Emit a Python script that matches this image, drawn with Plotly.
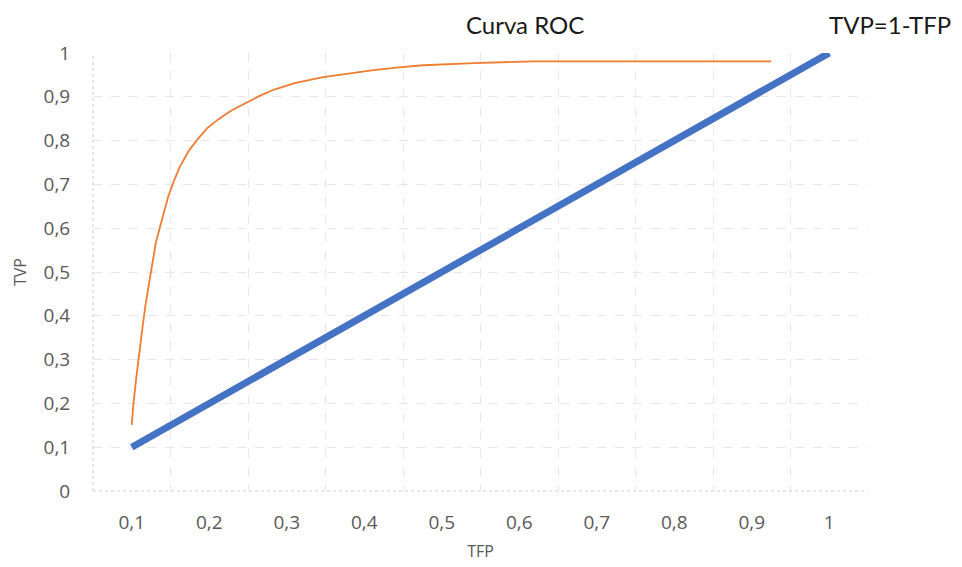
import plotly.graph_objects as go

# Data
roc_tfp = [0.100, 0.102, 0.106, 0.110, 0.114, 0.118, 0.123, 0.127, 0.131, 0.136,
           0.141, 0.147, 0.154, 0.162, 0.173, 0.184, 0.197, 0.212, 0.228, 0.245,
           0.265, 0.283, 0.310, 0.347, 0.380, 0.412, 0.445, 0.476, 0.541, 0.618,
           0.700, 0.800, 0.925]
roc_tvp = [0.151, 0.196, 0.261, 0.322, 0.375, 0.428, 0.482, 0.527, 0.566, 0.600,
           0.634, 0.672, 0.706, 0.740, 0.775, 0.801, 0.828, 0.849, 0.868, 0.884,
           0.902, 0.916, 0.931, 0.945, 0.954, 0.961, 0.967, 0.972, 0.977, 0.981,
           0.981, 0.981, 0.981]
diag_tfp = [0.1, 1.0]
diag_tvp = [0.1, 1.0]

x_ticks = [0.1, 0.2, 0.3, 0.4, 0.5, 0.6, 0.7, 0.8, 0.9, 1.0]
x_labels = ["0,1", "0,2", "0,3", "0,4", "0,5", "0,6", "0,7", "0,8", "0,9", "1"]
x_grid = [0.15, 0.25, 0.35, 0.45, 0.55, 0.65, 0.75, 0.85, 0.95, 1.05]
y_ticks = [0, 0.1, 0.2, 0.3, 0.4, 0.5, 0.6, 0.7, 0.8, 0.9, 1.0]
y_labels = ["0", "0,1", "0,2", "0,3", "0,4", "0,5", "0,6", "0,7", "0,8", "0,9", "1"]

series_names = ["Curva ROC", "TVP=1-TFP"]

fig = go.Figure()
fig.add_trace(go.Scatter(x=roc_tfp, y=roc_tvp, mode="lines", name=series_names[0],
                         line=dict(color="#ED7D31", width=1.8)))
fig.add_trace(go.Scatter(x=diag_tfp, y=diag_tvp, mode="lines", name=series_names[1],
                         line=dict(color="#4472C4", width=7)))

grid_col = "#E6E6E6"
tick_font = dict(family="Open Sans, Noto Sans, sans-serif", size=19, color="#595959")
title_font = dict(family="Open Sans, Noto Sans, sans-serif", size=16, color="#595959")

L, R, T, B = 93, 94, 53, 76
W, H = 962, 567
pw, ph = W - L - R, H - T - B

fig.update_layout(
    width=W, height=H,
    margin=dict(l=L, r=R, t=T, b=B, autoexpand=False),
    paper_bgcolor="white", plot_bgcolor="white",
    showlegend=False,
    xaxis=dict(range=[0.05, 1.05], tickvals=x_ticks, ticktext=x_labels,
               showgrid=False, zeroline=False, ticks="outside", ticklen=14,
               tickcolor="rgba(0,0,0,0)", automargin=False,
               tickfont=tick_font, showline=False,
               minor=dict(tickvals=x_grid, showgrid=True, gridcolor=grid_col,
                          griddash="dash", gridwidth=1, ticks=""),
               title=dict(text="TFP", font=title_font, standoff=12)),
    yaxis=dict(range=[0, 1], tickvals=y_ticks, ticktext=y_labels,
               showgrid=True, gridcolor=grid_col, griddash="dash", gridwidth=1,
               zeroline=False, ticks="outside", ticklen=18, tickcolor="rgba(0,0,0,0)",
               automargin=False, tickfont=tick_font, showline=False,
               title=dict(text="TVP", font=title_font, standoff=12)),
    shapes=[
        dict(type="line", xref="paper", yref="paper", x0=0, x1=0, y0=0, y1=1,
             line=dict(color="#CFCFCF", width=1, dash="dot")),
        dict(type="line", xref="paper", yref="paper", x0=0, x1=1, y0=0, y1=0,
             line=dict(color="#CFCFCF", width=1, dash="dot")),
    ],
    annotations=[
        dict(text=series_names[0], x=(525 - L) / pw, y=(H - B - 25) / ph,
             xref="paper", yref="paper", showarrow=False, xanchor="center", yanchor="middle",
             font=dict(family="Lato, Carlito, sans-serif", size=24, color="#1a1a1a")),
        dict(text=series_names[1], x=(890 - L) / pw, y=(H - B - 25) / ph,
             xref="paper", yref="paper", showarrow=False, xanchor="center", yanchor="middle",
             font=dict(family="Lato, Carlito, sans-serif", size=24, color="#1a1a1a")),
    ],
)

fig.write_html("out.html", config={"displayModeBar": False},
               post_script="document.body.style.margin='0';")
